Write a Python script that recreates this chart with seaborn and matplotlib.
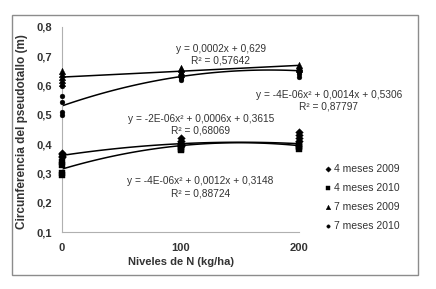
import numpy as np
import pandas as pd
import matplotlib
matplotlib.use("Agg")
import matplotlib.pyplot as plt
import seaborn as sns
from matplotlib.patches import Rectangle
from matplotlib.ticker import FuncFormatter

# %% data
niveles_n = [0, 100, 200]

grupos = ["4 meses 2009", "4 meses 2010", "7 meses 2009", "7 meses 2010"]

# replicate values at N = 0, 100, 200
m4_2009 = [[0.36, 0.365, 0.355, 0.37], [0.42, 0.41, 0.40, 0.395], [0.44, 0.43, 0.42, 0.41]]
m4_2010 = [[0.34, 0.33, 0.30, 0.295], [0.40, 0.39, 0.38, 0.385], [0.40, 0.395, 0.39, 0.385]]
m7_2009 = [[0.65, 0.64, 0.63, 0.62, 0.61], [0.66, 0.655, 0.645, 0.64], [0.67, 0.665, 0.66, 0.655]]
m7_2010 = [[0.60, 0.565, 0.545, 0.51, 0.50], [0.64, 0.63, 0.625, 0.62], [0.65, 0.645, 0.64, 0.63]]

# trendline coefficients (a x^2 + b x + c) as printed on the chart
coef_4_2009 = [-2e-06, 0.0006, 0.3615]
coef_4_2010 = [-4e-06, 0.0012, 0.3148]
coef_7_2009 = [0.0, 0.0002, 0.629]
coef_7_2010 = [-4e-06, 0.0014, 0.5306]

eq_textos = [
    "y = -2E-06x² + 0,0006x + 0,3615\nR² = 0,68069",
    "y = -4E-06x² + 0,0012x + 0,3148\nR² = 0,88724",
    "y = 0,0002x + 0,629\nR² = 0,57642",
    "y = -4E-06x² + 0,0014x + 0,5306\nR² = 0,87797",
]

# %% build long table
series = [m4_2009, m4_2010, m7_2009, m7_2010]
rows = []
for g, vals in zip(grupos, series):
    for n, reps in zip(niveles_n, vals):
        for v in reps:
            rows.append({"grupo": g, "N": n, "circ": v})
df = pd.DataFrame(rows)

# %% plot
sns.set_style("white")
plt.rcParams["font.family"] = ["Liberation Sans", "DejaVu Sans"]

fig = plt.figure(figsize=(4.36, 2.89), dpi=100)
ax = fig.add_axes([62 / 436, 1 - 232 / 289, (299 - 62) / 436, (232 - 27) / 289])

marcadores = {"4 meses 2009": ("D", 15), "4 meses 2010": ("s", 13),
              "7 meses 2009": ("^", 22), "7 meses 2010": ("o", 12)}

xs = np.linspace(0, 200, 101)
for g, coef in zip(grupos, [coef_4_2009, coef_4_2010, coef_7_2009, coef_7_2010]):
    ax.plot(xs, np.polyval(coef, xs), color="black", lw=1.1, zorder=2)

for g in grupos:
    m, s = marcadores[g]
    sns.scatterplot(data=df[df.grupo == g], x="N", y="circ", marker=m, s=s,
                    color="black", edgecolor="black", linewidth=0.3, ax=ax,
                    label=g, clip_on=False, zorder=3)

# equations
txt_kw = dict(ha="center", va="center", fontsize=7.3, color="#333333",
              linespacing=1.25, clip_on=False)
ax.text(117, 0.467, eq_textos[0], **txt_kw)
ax.text(117, 0.252, eq_textos[1], **txt_kw)
ax.text(134, 0.706, eq_textos[2], **txt_kw)
ax.text(225, 0.548, eq_textos[3], **txt_kw)

ax.set_xlim(0, 200)
ax.set_ylim(0.1, 0.8)
ax.set_xticks([0, 100, 200])
ax.set_yticks(np.arange(0.1, 0.81, 0.1))
ax.yaxis.set_major_formatter(FuncFormatter(lambda v, p: f"{v:.1f}".replace(".", ",")))

for sp in ["top", "right"]:
    ax.spines[sp].set_visible(False)
for sp in ["left", "bottom"]:
    ax.spines[sp].set_color("#b0b0b0")
    ax.spines[sp].set_linewidth(0.8)

ax.tick_params(axis="both", length=3, width=0.8, color="#b0b0b0",
               labelsize=8, labelcolor="#333333")
ax.tick_params(axis="y", pad=4)
ax.tick_params(axis="x", pad=5)
for lbl in ax.get_xticklabels() + ax.get_yticklabels():
    lbl.set_fontweight("bold")

ax.set_xlabel("Niveles de N (kg/ha)", fontsize=8, fontweight="bold", color="#333333")
ax.set_ylabel("Circunferencia del pseudotallo (m)", fontsize=8.5, fontweight="bold",
              color="#333333")
ax.xaxis.set_label_coords(0.5, (232 - 257) / 205)
ax.yaxis.set_label_coords((28 - 62) / 237, 0.49)

leg = ax.legend(loc="upper left", bbox_to_anchor=(321 / 436, 1 - 159 / 289),
                bbox_transform=fig.transFigure, frameon=False, fontsize=7.5,
                markerscale=0.7, handlelength=0.4, handletextpad=0.3,
                labelspacing=0.85, borderpad=0)
for t in leg.get_texts():
    t.set_color("#333333")

# outer chart frame
fig.patches.append(Rectangle((12 / 436, 1 - 275 / 289), (418 - 12) / 436, (275 - 15) / 289,
                             transform=fig.transFigure, fill=False,
                             edgecolor="#8c8c8c", linewidth=1.0))

fig.savefig("out.png", dpi=100)
